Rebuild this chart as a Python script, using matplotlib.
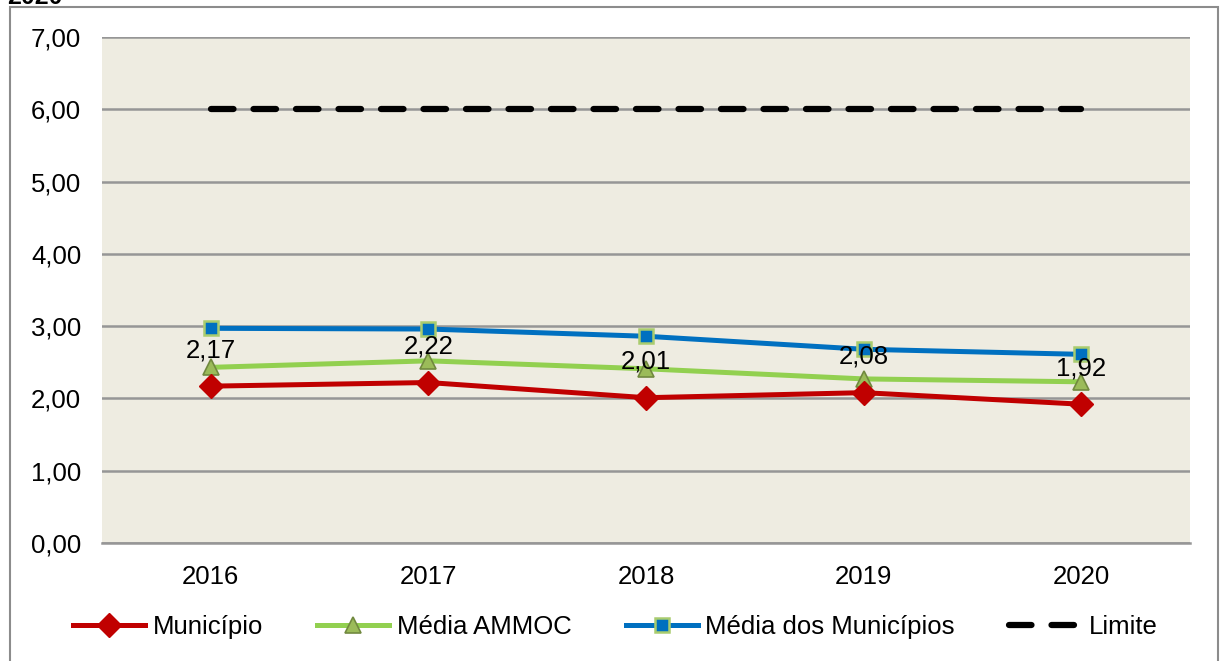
import matplotlib
matplotlib.use("Agg")
import matplotlib.pyplot as plt
from matplotlib.patches import Rectangle

plt.rcParams['font.family'] = ['Liberation Sans', 'DejaVu Sans']

years = ["2016", "2017", "2018", "2019", "2020"]
municipio = [2.17, 2.22, 2.01, 2.08, 1.92]
media_ammoc = [2.43, 2.52, 2.41, 2.27, 2.23]
media_municipios = [2.97, 2.96, 2.86, 2.68, 2.61]
limite = [6.0, 6.0, 6.0, 6.0, 6.0]
yticks = [0, 1, 2, 3, 4, 5, 6, 7]
ytick_labels = ["0,00", "1,00", "2,00", "3,00", "4,00", "5,00", "6,00", "7,00"]
label_texts = ["2,17", "2,22", "2,01", "2,08", "1,92"]

W, H = 1221, 661
fig = plt.figure(figsize=(W / 100, H / 100), dpi=100)
fig.patch.set_facecolor("white")

# outer frame
fig.patches.append(Rectangle((10 / W, -0.05), (1218 - 10) / W, 1.05 - 7 / H,
                             transform=fig.transFigure, fill=False,
                             edgecolor="#8c8c8c", linewidth=1.5, zorder=0))
fig.text(7 / W, 1 - 4 / H, "2020", fontsize=18, fontweight="bold",
         ha="left", va="baseline", color="black")

ax = fig.add_axes([102 / W, 1 - 543 / H, (1190 - 102) / W, (543 - 37) / H])
ax.set_facecolor("#EEECE1")
x = list(range(len(years)))

ax.set_xlim(-0.5, len(years) - 0.5)
ax.set_ylim(0, 7)
ax.set_yticks(yticks)
ax.set_yticklabels(ytick_labels)
ax.set_xticks(x)
ax.set_xticklabels(years)
ax.tick_params(axis="both", length=0, labelsize=18.5, colors="black")
ax.tick_params(axis="y", pad=15)
ax.tick_params(axis="x", pad=16)
ax.grid(axis="y", color="#969696", linewidth=1.8, zorder=1)
ax.set_axisbelow(True)
for s in ["left", "right", "top"]:
    ax.spines[s].set_visible(False)
ax.spines["bottom"].set_color("#969696")
ax.spines["bottom"].set_linewidth(1.8)

ln_lim, = ax.plot(x, limite, color="black", linewidth=4.5, linestyle=(0, (3.6, 3.2)),
                  dash_capstyle="round", label="Limite", zorder=3)
ln_mm, = ax.plot(x, media_municipios, color="#0070C0", linewidth=3.6, marker="s",
                 markersize=10, markerfacecolor="#0070C0", markeredgecolor="#A9CC6E",
                 markeredgewidth=1.8, label="Média dos Municípios", zorder=4)
ln_am, = ax.plot(x, media_ammoc, color="#92D050", linewidth=3.6, marker="^",
                 markersize=11, markerfacecolor="#9BBB59", markeredgecolor="#71893F",
                 markeredgewidth=1.2, label="Média AMMOC", zorder=5)
ln_mu, = ax.plot(x, municipio, color="#C00000", linewidth=3.6, marker="D",
                 markersize=12, markerfacecolor="#C00000", markeredgecolor="#C00000",
                 label="Município", zorder=6)

for xi, yi, t in zip(x, municipio, label_texts):
    ax.annotate(t, (xi, yi), xytext=(0, 26), textcoords="offset points",
                ha="center", va="center", fontsize=18.5, color="black", zorder=7)

handles = [ln_mu, ln_am, ln_mm, ln_lim]
labels = ["Município", "Média AMMOC", "Média dos Municípios", "Limite"]
fig.legend(handles, labels, loc="center", bbox_to_anchor=(0.504, 1 - 627 / H),
           ncol=4, frameon=False, fontsize=18.5, handlelength=2.8, handletextpad=0.3,
           columnspacing=2.1, borderaxespad=0)

fig.savefig("out.png", dpi=100, facecolor="white")
